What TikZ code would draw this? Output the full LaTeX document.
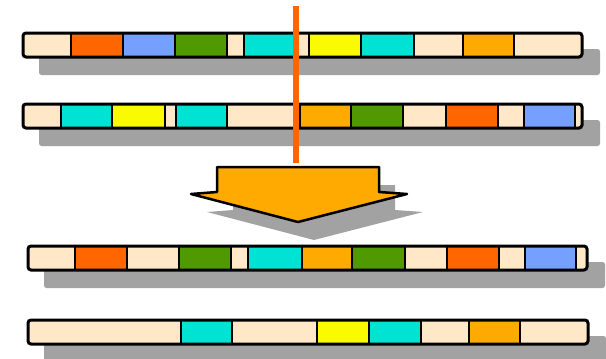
\documentclass[tikz,border=0pt]{standalone}
\usepackage{xcolor}
\definecolor{gabeige}{RGB}{255,232,200}
\definecolor{gaorange}{RGB}{255,102,0}
\definecolor{gablue}{RGB}{117,160,255}
\definecolor{gagreen}{RGB}{80,153,0}
\definecolor{gacyan}{RGB}{0,226,212}
\definecolor{gayellow}{RGB}{250,250,0}
\definecolor{gaamber}{RGB}{255,170,0}
\definecolor{gashadow}{RGB}{162,162,162}
\usetikzlibrary{calc}

\tikzset{
  barshadow/.style={fill=gashadow, rounded corners=2.5},
  barbody/.style={draw=black, line width=3, rounded corners=3},
  gene/.style={draw=black, line width=2.2},
  cutline/.style={gaorange, line width=5.5},
  mergearrow/.style={fill=gaamber, draw=black, line width=2.5, line join=round},
}

% one chromosome bar: #1 top, #2 left, #3 right, #4 genes left/right/colour
\newcommand{\chrombar}[4]{%
  \fill[barshadow] (#2+16,#1+16) rectangle (#3+18,#1+42);
  \fill[gabeige, rounded corners=3] (#2,#1) rectangle (#3,#1+24);
  \foreach \sa/\sb/\sc in {#4}
    \filldraw[gene, fill=\sc] (\sa,#1) rectangle (\sb,#1+24);
  \draw[barbody] (#2,#1) rectangle (#3,#1+24);
}

\begin{document}
\begin{tikzpicture}[x=1pt, y=-1pt]
  \useasboundingbox (0,0) rectangle (606,359);

  % parent 1
  \chrombar{33}{23}{582}{71/123/gaorange, 123/175/gablue, 175/227/gagreen,
    244/297/gacyan, 309/361/gayellow, 361/414/gacyan, 463/514/gaamber}

  % parent 2
  \chrombar{104}{23}{582}{61/112/gacyan, 112/165/gayellow, 176/227/gacyan,
    300/351/gaamber, 351/403/gagreen, 446/498/gaorange, 524/575/gablue}

  % crossover point
  \coordinate (cut top) at (296,6);
  \coordinate (cut end) at (296,163);
  \draw[cutline] (cut top) -- (cut end);

  % arrow down
  \fill[gashadow, shift={(16,18)}] (217,167) -- (379,167) -- (379,192) -- (407,194)
    -- (298,222) -- (191,194) -- (217,192) -- cycle;
  \filldraw[mergearrow] (217,167) -- (379,167) -- (379,192) -- (407,194)
    -- (298,222) -- (191,194) -- (217,192) -- cycle;

  % offspring 1
  \chrombar{246}{28}{587}{75/127/gaorange, 179/231/gagreen, 248/302/gacyan,
    302/352/gaamber, 352/405/gagreen, 447/499/gaorange, 525/576/gablue}

  % offspring 2
  \chrombar{320}{28}{588}{181/232/gacyan, 317/369/gayellow, 369/421/gacyan,
    469/520/gaamber}
\end{tikzpicture}
\end{document}
